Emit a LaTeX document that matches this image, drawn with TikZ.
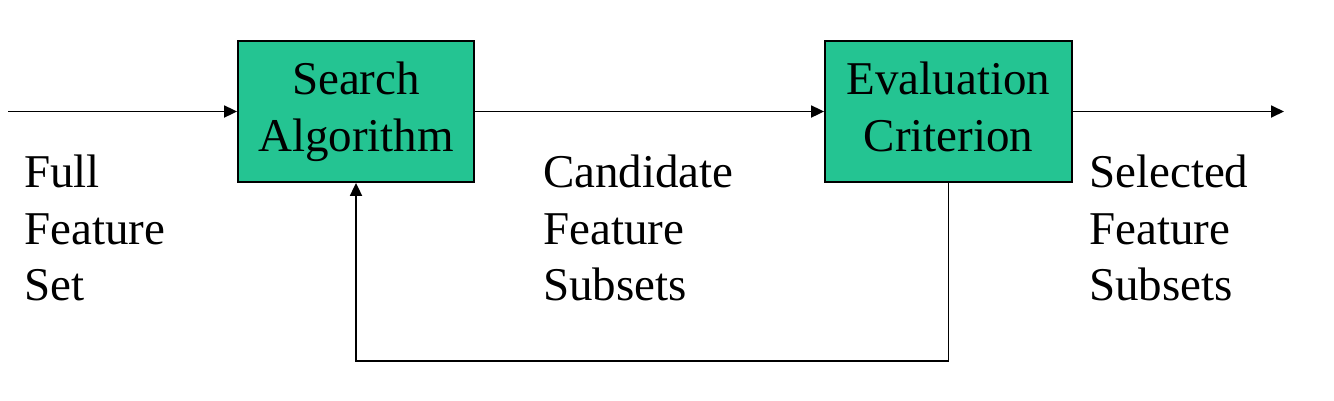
\documentclass[tikz,border=0pt]{standalone}
\usepackage{fontspec}
\setmainfont{Liberation Serif}
\usetikzlibrary{arrows.meta}
\definecolor{boxgreen}{HTML}{24C492}
\begin{document}
\begin{tikzpicture}[x=1pt,y=-1pt,
  blk/.style={draw=black,line width=1.8pt,fill=boxgreen,minimum width=236pt,minimum height=141pt,align=center,inner sep=0pt,font=\fontsize{47}{56.5}\selectfont},
  lbl/.style={anchor=base west,align=left,inner sep=0pt,font=\fontsize{47}{56.5}\selectfont},
  conn/.style={line width=1.8pt,-{Triangle[length=13pt,width=12pt]}}]
\useasboundingbox (0,0) rectangle (1334,400);
\node[blk] (sa) at (356,111.5) {\strut Search\\\strut Algorithm};
\node[blk,minimum width=247pt] (ec) at (948.5,111.5) {\strut Evaluation\\\strut Criterion};
\coordinate (in) at (8,111.5);
\coordinate (out) at (1284,111.5);
\coordinate (fb1) at (948.5,361);
\coordinate (fb2) at (356,361);
\draw[conn] (in) -- (sa.west);
\draw[conn] (sa.east) -- (ec.west);
\draw[conn] (ec.east) -- (out);
\draw[conn] (ec.south) -- (fb1) -- (fb2) -- (sa.south);
\node[lbl] (l1) at (24,300.5) {Full\\Feature\\Set};
\node[lbl] (l2) at (543,300.5) {Candidate\\Feature\\Subsets};
\node[lbl] (l3) at (1089,300.5) {Selected\\Feature\\Subsets};
\end{tikzpicture}
\end{document}
